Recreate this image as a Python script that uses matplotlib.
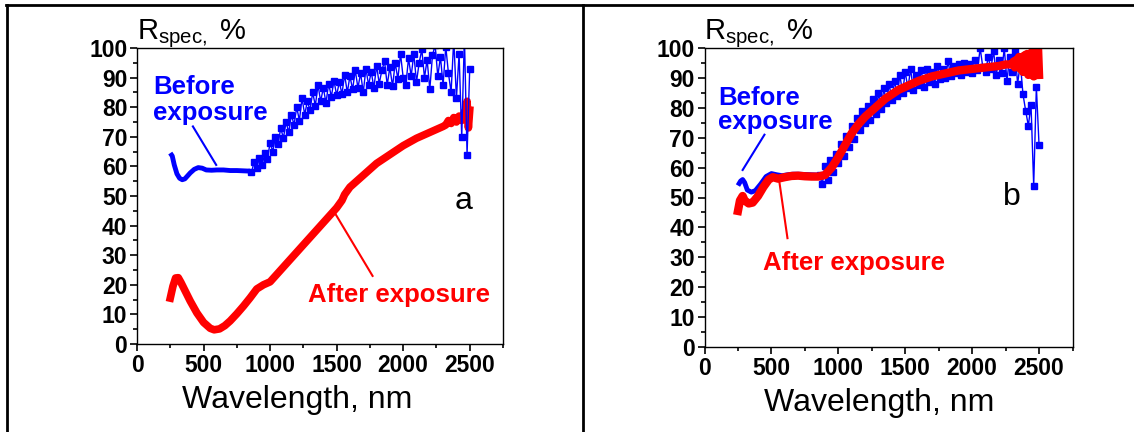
import numpy as np
import matplotlib.pyplot as plt
from matplotlib.lines import Line2D
from matplotlib.ticker import MultipleLocator

plt.rcParams['font.family'] = 'Liberation Sans'
plt.rcParams['mathtext.fontset'] = 'custom'
plt.rcParams['mathtext.rm'] = 'Liberation Sans'

BLUE = '#0000ff'
RED = '#ff0000'

# ---------------- panel a ----------------
# before exposure, UV-VIS part (smooth)
a_before_vis_wl = [250, 265, 280, 300, 320, 340, 360, 380, 400, 430, 460, 490, 520,
                   560, 600, 650, 700, 750, 800, 850]
a_before_vis_r = [64.5, 63.5, 60.5, 57.5, 56.0, 55.5, 55.8, 56.8, 57.8, 59.0, 59.6, 59.4, 58.8,
                  58.7, 58.8, 58.8, 58.6, 58.6, 58.5, 58.4]
# before exposure, NIR part (noisy)
a_before_nir_wl = list(range(860, 2501, 20))
a_before_nir_r = [58, 61.5, 59.5, 63, 60.5, 64.5, 62.5, 68, 65, 70,
                  67.5, 73, 69.5, 75, 71.5, 77.5, 74, 80, 75.5, 83,
                  77.5, 82, 79, 85, 80.5, 87.5, 82, 86.5, 81.5, 88,
                  83.5, 89, 84, 88.5, 84.5, 91, 85, 90.5, 86, 92.5,
                  86.5, 91.5, 85, 93, 87.5, 92, 86.5, 94, 88, 92.5,
                  95.5, 87.5, 93.5, 87, 95, 89.5, 98, 90, 87.5, 96.5,
                  90.5, 98, 88.5, 95, 99.5, 90, 96, 86, 97.5, 101,
                  90.5, 97, 87.5, 100.5, 91.5, 85, 103, 83, 98, 70,
                  104, 64, 93]
# after exposure
a_after_wl = [250, 270, 290, 310, 330, 350, 400, 450, 500, 550, 580, 620, 660, 700, 750,
              800, 850, 880, 900, 950, 1000, 1050, 1100, 1200, 1300, 1400, 1500, 1540,
              1560, 1600, 1700, 1800, 1900, 2000, 2100, 2200, 2300, 2320, 2340, 2360,
              2380, 2400, 2420, 2440, 2460, 2470, 2480, 2490, 2500]
a_after_r = [15.5, 19.5, 22.3, 22.4, 20.8, 19.0, 14.5, 10.5, 7.3, 5.3, 4.8, 5.1, 6.2, 7.8, 10.2,
             12.8, 15.6, 17.4, 18.6, 20.0, 21.0, 23.5, 26.0, 31.0, 36.0, 41.0, 46.0, 48.5,
             50.5, 53.0, 57.0, 61.0, 64.0, 67.0, 69.5, 71.5, 73.5, 74.0, 75.5, 74.5,
             76.5, 75.0, 77.0, 75.5, 78.5, 76.0, 82.0, 73.0, 79.0]

# ---------------- panel b ----------------
b_before_vis_wl = [250, 270, 285, 300, 320, 350, 380, 420, 460, 500, 540, 580, 620, 660,
                   700, 750, 800, 850]
b_before_vis_r = [54.0, 55.5, 56.0, 55.0, 52.5, 51.8, 52.3, 54.5, 57.0, 58.0, 57.6, 57.3,
                  57.6, 57.8, 57.8, 57.7, 57.6, 57.5]
b_before_nir_wl = list(range(860, 2501, 20))
b_before_nir_r = [57.5, 54.5, 60.5, 56, 62.5, 58.5, 64.5, 61.5, 68, 64,
                  70.5, 67, 74, 69.5, 76.5, 72.5, 79, 75, 80.5, 76,
                  83, 78, 85, 79.5, 86.5, 81.5, 88, 82.5, 89, 84,
                  91, 85, 92, 86.5, 93, 86, 91, 87.5, 92.5, 87,
                  93, 88.5, 92, 88, 94, 89.5, 93, 90, 95.5, 90.5,
                  94, 91.5, 94.5, 91, 95, 92, 94.5, 91.5, 96, 92.5,
                  100, 93.5, 92, 97, 93, 99, 91, 96, 91.5, 100,
                  89, 97, 92, 99, 88, 95, 84.5, 79, 74, 81,
                  54, 87, 67.5]
b_after_wl = [250, 265, 285, 300, 330, 360, 400, 440, 480, 510, 550, 600, 650, 700, 750,
              800, 850, 900, 950, 1000, 1050, 1100, 1150, 1200, 1250, 1300, 1350, 1400,
              1450, 1500, 1600, 1700, 1800, 1900, 2000, 2100, 2200, 2250, 2300, 2310,
              2320, 2330, 2340, 2350, 2360, 2370, 2380, 2390, 2400, 2410, 2420, 2430,
              2440, 2450, 2460, 2470, 2480, 2490, 2500]
b_after_r = [45.5, 49.0, 50.5, 49.0, 48.0, 48.3, 50.5, 53.5, 56.0, 56.8, 56.3, 56.8, 57.2,
             57.3, 57.1, 57.0, 57.0, 57.5, 60.0, 63.5, 67.5, 71.5, 74.5, 77.0, 79.0, 81.0,
             83.0, 84.5, 86.0, 87.0, 89.0, 90.5, 91.5, 92.5, 93.0, 93.5, 94.0, 94.5, 94.5,
             95.5, 93.5, 96.0, 94.0, 97.0, 93.0, 96.5, 92.0, 97.5, 94.0, 98.0, 91.0, 97.0,
             93.0, 99.0, 90.5, 100.0, 92.0, 103.0, 91.0]

x_major = 500
x_minor = 250
y_major = 10
y_minor = 5

fig = plt.figure(figsize=(11.34, 4.32), dpi=100)
ax_a = fig.add_axes([137 / 1134, 88 / 432, 366 / 1134, 296 / 432])
ax_b = fig.add_axes([704.5 / 1134, 85 / 432, 368 / 1134, 299 / 432])


def setup_axes(ax, label_x):
    ax.set_xlim(0, 2750)
    ax.set_ylim(0, 100)
    ax.xaxis.set_major_locator(MultipleLocator(x_major))
    ax.xaxis.set_minor_locator(MultipleLocator(x_minor))
    ax.yaxis.set_major_locator(MultipleLocator(y_major))
    ax.yaxis.set_minor_locator(MultipleLocator(y_minor))
    ax.tick_params(which='both', direction='out', top=False, right=False, width=1.2)
    ax.tick_params(which='major', length=5, labelsize=16.5, pad=2)
    ax.tick_params(which='minor', length=3)
    for lab in ax.get_xticklabels() + ax.get_yticklabels():
        lab.set_fontweight('bold')
    for sp in ax.spines.values():
        sp.set_linewidth(1.0)
    ax.text(label_x, -0.215, 'Wavelength, nm', transform=ax.transAxes,
            ha='center', va='baseline', fontsize=23)
    ax.text(0.0, 1.03, r'R$_{\mathrm{spec,}}$ %', transform=ax.transAxes,
            ha='left', va='baseline', fontsize=21)


setup_axes(ax_a, 0.439)
setup_axes(ax_b, 0.474)

# panel a curves
ax_a.plot(a_after_wl, a_after_r, color=RED, lw=5.5, solid_joinstyle='round')
ax_a.plot(a_before_vis_wl, a_before_vis_r, color=BLUE, lw=3.5, solid_capstyle='butt')
ax_a.plot(a_before_nir_wl, a_before_nir_r, color=BLUE, lw=1, marker='s', ms=4)

ax_a.text(120, 84.4, 'Before', color=BLUE, fontsize=18.5, fontweight='bold', va='baseline')
ax_a.text(120, 75.7, 'exposure', color=BLUE, fontsize=18.5, fontweight='bold', va='baseline')
ax_a.plot([420, 595], [73.5, 60.5], color=BLUE, lw=1.5)
ax_a.text(1284, 14.2, 'After exposure', color=RED, fontsize=18.5, fontweight='bold',
          va='baseline')
ax_a.plot([1470, 1770], [45.5, 23], color=RED, lw=1.5)
ax_a.text(2457, 48.3, 'a', fontsize=23, ha='center', va='center')

# panel b curves
ax_b.plot(b_before_vis_wl, b_before_vis_r, color=BLUE, lw=3.5, solid_capstyle='butt')
ax_b.plot(b_before_nir_wl, b_before_nir_r, color=BLUE, lw=1, marker='s', ms=4)
ax_b.plot(b_after_wl, b_after_r, color=RED, lw=6, solid_joinstyle='round')

ax_b.text(101, 81.0, 'Before', color=BLUE, fontsize=18.5, fontweight='bold', va='baseline')
ax_b.text(101, 72.9, 'exposure', color=BLUE, fontsize=18.5, fontweight='bold', va='baseline')
ax_b.plot([285, 448], [59.2, 71.0], color=BLUE, lw=1.5)
ax_b.text(435, 25.8, 'After exposure', color=RED, fontsize=18.5, fontweight='bold',
          va='baseline')
ax_b.plot([557, 620], [56, 36.4], color=RED, lw=1.5)
ax_b.text(2298, 50.2, 'b', fontsize=23, ha='center', va='center')

# table frame around the two panels
frame = dict(color='black', lw=2, transform=fig.transFigure)
fig.add_artist(Line2D([6 / 1134, 1], [1 - 4.5 / 432, 1 - 4.5 / 432], **frame))
fig.add_artist(Line2D([6.5 / 1134, 6.5 / 1134], [0, 1 - 4.5 / 432], **frame))
fig.add_artist(Line2D([583 / 1134, 583 / 1134], [0, 1 - 4.5 / 432], **frame))

fig.savefig('out.png', dpi=100)
